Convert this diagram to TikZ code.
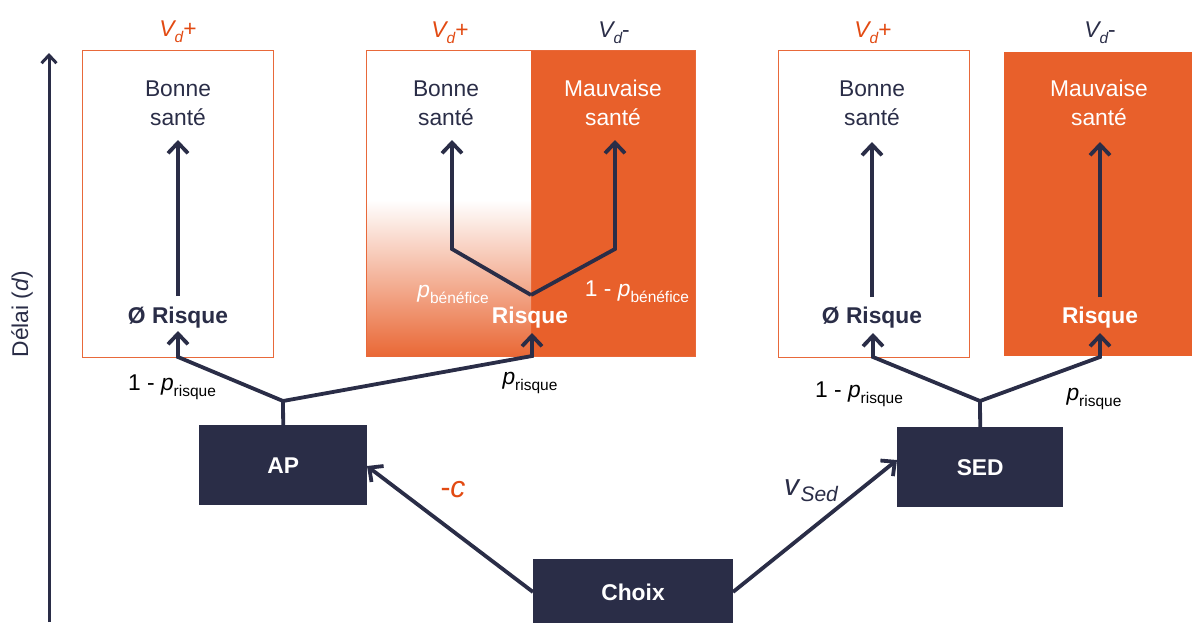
\documentclass[tikz,border=0pt]{standalone}
\usepackage{fontspec}
\setmainfont{Liberation Sans}
\usetikzlibrary{arrows.meta}
\definecolor{navy}{HTML}{2A2D47}
\definecolor{orfill}{HTML}{E8602B}
\definecolor{ortext}{HTML}{E24A12}
\definecolor{orline}{HTML}{E8693A}
\newcommand\lowsub[1]{\raisebox{-0.28em}{\fontsize{15.5}{15.5}\selectfont #1}}
\begin{document}
\begin{tikzpicture}[x=1pt,y=-1pt,
  txt/.style={font=\fontsize{22.8}{29}\selectfont, text=navy, align=center, inner sep=0pt},
  wtxt/.style={txt, text=white},
  btxt/.style={txt, font=\fontsize{22.8}{29}\selectfont\bfseries},
  ptxt/.style={txt, text=black},
  vtxt/.style={txt, text=ortext},
  frame/.style={draw=orline, line width=1.3pt, inner sep=0pt, anchor=north west},
  solid box/.style={fill=orfill, inner sep=0pt, anchor=north west},
  dark box/.style={fill=navy, inner sep=0pt, anchor=north west, text=white, font=\fontsize{22.8}{29}\selectfont\bfseries},
  ln/.style={draw=navy, line width=3.8pt},
  arr/.style={ln, -{Straight Barb[length=10.5pt,width=20pt]}},
  axarr/.style={draw=navy, line width=3pt, -{Straight Barb[length=8pt,width=15pt]}},
]
\useasboundingbox (0,0) rectangle (1192,622);

% boxes
\node[solid box, minimum width=165pt, minimum height=306pt] (b2r) at (531,50) {};
\shade[top color=white, bottom color=orfill!95!white] (366,200) rectangle (531,356);
\node[frame, minimum width=329pt, minimum height=306pt] (b2) at (366,50) {};
\node[frame, minimum width=191pt, minimum height=307pt] (b1) at (82,50) {};
\node[frame, minimum width=191pt, minimum height=307pt] (b3) at (778,50) {};
\node[solid box, minimum width=188pt, minimum height=304pt] (b4) at (1004,52) {};

% axis
\coordinate (axb) at (49,622);
\coordinate (axt) at (49,53);
\draw[axarr] (axb) -- (axt);
\node[txt, rotate=90] (delai) at (22,314) {Délai (\textit{d})};

% value labels
\node[vtxt, anchor=base] (v1) at (178,36) {\textit{V\lowsub{d}}+};
\node[vtxt, anchor=base] (v2) at (450,37) {\textit{V\lowsub{d}}+};
\node[txt, anchor=base] (v3) at (614,37) {\textit{V\lowsub{d}}-};
\node[vtxt, anchor=base] (v4) at (873,37) {\textit{V\lowsub{d}}+};
\node[txt, anchor=base] (v5) at (1100,37) {\textit{V\lowsub{d}}-};

% health states
\node[txt] (bs1) at (178,103) {Bonne\\santé};
\node[txt] (bs2) at (446,103) {Bonne\\santé};
\node[wtxt] (ms2) at (613,103) {Mauvaise\\santé};
\node[txt] (bs3) at (872,103) {Bonne\\santé};
\node[wtxt] (ms4) at (1099,103) {Mauvaise\\santé};

% risk nodes
\node[btxt, anchor=base] (r1) at (178,323) {Ø Risque};
\node[btxt, text=white, anchor=base] (r2) at (530,323) {Risque};
\node[btxt, anchor=base] (r3) at (872,323) {Ø Risque};
\node[btxt, text=white, anchor=base] (r4) at (1100,323) {Risque};

% decision nodes
\node[dark box, minimum width=168pt, minimum height=80pt] (ap) at (199,425) {AP};
\node[dark box, minimum width=166pt, minimum height=80pt] (sed) at (897,427) {SED};
\node[dark box, minimum width=200pt, minimum height=70pt] (choix) at (533,559) {};
\node[txt, text=white, font=\fontsize{22.8}{29}\selectfont\bfseries] (choixt) at (633,592) {Choix};

% arrows inside boxes
\coordinate (a1s) at (178,296); \coordinate (a1e) at (178,140);
\draw[arr] (a1s) -- (a1e);
\coordinate (a3s) at (872,297); \coordinate (a3e) at (872,142);
\draw[arr] (a3s) -- (a3e);
\coordinate (a4s) at (1100,297); \coordinate (a4e) at (1100,142);
\draw[arr] (a4s) -- (a4e);

% benefit fork
\coordinate (fb) at (531,295);
\coordinate (fbl) at (452,249); \coordinate (fblt) at (452,140);
\coordinate (fbr) at (615,249); \coordinate (fbrt) at (615,140);
\draw[arr] (fb) -- (fbl) -- (fblt);
\draw[arr] (fb) -- (fbr) -- (fbrt);
\node[wtxt, anchor=base] (pb) at (453,297) {\textit{p}\lowsub{bénéfice}};
\node[wtxt, anchor=base] (pb2) at (637,296) {1 - \textit{p}\lowsub{bénéfice}};

% AP fork
\coordinate (fa) at (283,401);
\coordinate (fal) at (178,357); \coordinate (falt) at (178,331);
\coordinate (far) at (532,356); \coordinate (fart) at (532,333);
\draw[ln] (ap.north) -- (fa);
\draw[arr] (fa) -- (fal) -- (falt);
\draw[arr] (fa) -- (far) -- (fart);
\node[ptxt, anchor=base] (pr1) at (172,390) {1 - \textit{p}\lowsub{risque}};
\node[ptxt, anchor=base] (pr2) at (530,384) {\textit{p}\lowsub{risque}};

% SED fork
\coordinate (fs) at (980,401);
\coordinate (fsl) at (873,357); \coordinate (fslt) at (873,333);
\coordinate (fsr) at (1100,357); \coordinate (fsrt) at (1100,333);
\draw[ln] (sed.north) -- (fs);
\draw[arr] (fs) -- (fsl) -- (fslt);
\draw[arr] (fs) -- (fsr) -- (fsrt);
\node[ptxt, anchor=base] (pr3) at (859,397) {1 - \textit{p}\lowsub{risque}};
\node[ptxt, anchor=base] (pr4) at (1094,400) {\textit{p}\lowsub{risque}};

% choice arrows
\coordinate (cl) at (533,592);
\coordinate (cr) at (733,592);
\coordinate (apin) at (367,466);
\coordinate (sedin) at (897,460);
\draw[arr] (cl) -- (apin);
\draw[arr] (cr) -- (sedin);
\node[txt, text=ortext, anchor=base, font=\fontsize{30}{30}\selectfont] (cost) at (453,497) {-\textit{c}};
\node[txt, anchor=base, font=\fontsize{30}{30}\selectfont] (vsed) at (811,495) {\textit{v}\raisebox{-0.22em}{\fontsize{21}{21}\selectfont\itshape Sed}};
\end{tikzpicture}
\end{document}
